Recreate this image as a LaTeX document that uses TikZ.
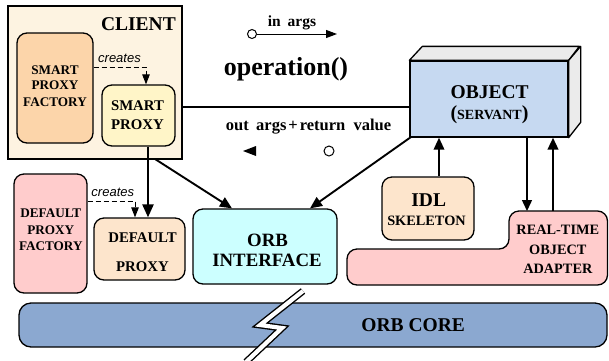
\documentclass[tikz,border=0pt]{standalone}
\usepackage{fontspec}
\setmainfont{Liberation Serif}
\newfontfamily\labelsans{Liberation Sans}
\usetikzlibrary{arrows.meta}

\definecolor{clientbg}{HTML}{FDF3E1}
\definecolor{spfbg}{HTML}{FCD5AA}
\definecolor{spbg}{HTML}{FFF5C8}
\definecolor{objfront}{HTML}{C6D9F1}
\definecolor{objside}{HTML}{EBEBEB}
\definecolor{pinkbg}{HTML}{FFCCCC}
\definecolor{peachbg}{HTML}{FDE5CC}
\definecolor{orbibg}{HTML}{CCFFFF}
\definecolor{corebg}{HTML}{8BA8D0}

\tikzset{
  box/.style={draw=black, line width=1.3pt, rounded corners=10pt, inner sep=0pt},
  txt/.style={font=\bfseries\fontsize{#1}{#1}\selectfont, anchor=base, inner sep=0pt},
  txt/.default=14,
  creat/.style={font=\labelsans\itshape\fontsize{13}{13}\selectfont, anchor=base, inner sep=0pt},
  thick arrow/.style={line width=2.4pt, -{Triangle[length=13pt,width=11pt]}},
  mid arrow/.style={line width=1.9pt, -{Triangle[length=12pt,width=10.5pt]}},
  thin arrow/.style={line width=1.4pt, -{Triangle[length=11pt,width=10pt]}},
  creates arrow/.style={line width=1pt, dashed, dash pattern=on 5pt off 3pt, -{Triangle[length=10pt,width=7.5pt]}}
}

\begin{document}
\begin{tikzpicture}[x=1pt,y=-1pt]
\useasboundingbox (0,0) rectangle (609,360);

% ---------- client side ----------
\node[draw=black, line width=1.6pt, fill=clientbg, inner sep=0pt,
      minimum width=174pt, minimum height=153pt] (client) at (95,82.5) {};
\node[txt=19.5, anchor=base east] (clientlbl) at (176,30.5) {CLIENT};

\node[box, fill=spfbg, minimum width=76pt, minimum height=110pt] (spf) at (55,88) {};
\node[txt=13.2] (spf1) at (55,74) {SMART};
\node[txt=13.2] (spf2) at (55,89.5) {PROXY};
\node[txt=13.2] (spf3) at (55,106) {FACTORY};

\node[box, fill=spbg, minimum width=73pt, minimum height=61pt] (sp) at (138.5,115.5) {};
\node[txt=14.8] (sp1) at (137.5,110.5) {SMART};
\node[txt=14.8] (sp2) at (137.5,129) {PROXY};

\coordinate (spx) at (146,0);
\draw[creates arrow] (spf.east |- 0,67) -- (spx |- 0,67) -- (spx |- sp.north);
\node[creat] (crt1) at (119.5,62.5) {creates};

% ---------- default proxy ----------
\node[box, fill=pinkbg, minimum width=73pt, minimum height=119pt] (dpf) at (50.5,233.5) {};
\node[txt=13.2] (dpf1) at (50.8,217.7) {DEFAULT};
\node[txt=13.2] (dpf2) at (50.8,234) {PROXY};
\node[txt=13.2] (dpf3) at (50.8,250) {FACTORY};

\node[box, fill=peachbg, minimum width=91pt, minimum height=62pt] (dp) at (139.5,249) {};
\node[txt=14.8] (dp1) at (142.5,242.3) {DEFAULT};
\node[txt=14.8] (dp2) at (142.5,271.7) {PROXY};

\coordinate (dpx) at (135,0);
\draw[creates arrow] (dpf.east |- 0,201) -- (dpx |- 0,201) -- (dpx |- dp.north);
\node[creat] (crt2) at (112.8,196) {creates};

% ---------- ORB interface ----------
\node[box, fill=orbibg, minimum width=144pt, minimum height=75pt] (orbi) at (265,246.5) {};
\node[txt=18.8] (orbi1) at (267.5,246) {ORB};
\node[txt=18.8] (orbi2) at (267,266) {INTERFACE};

% ---------- servant object (3-D box) ----------
\node[draw=black, line width=1.3pt, fill=objfront, inner sep=0pt,
      minimum width=158pt, minimum height=76pt] (obj) at (489,99) {};
\draw[line width=1.3pt, fill=objside, line join=round]
  (obj.north west) -- ++(13,-14) -- ++(157,0) -- (obj.north east) -- cycle;
\draw[line width=1.3pt, fill=objside, line join=round]
  (obj.north east) -- ++(12,-14) -- ++(0,76) -- (obj.south east) -- cycle;
\node[txt=19.5] (obj1) at (489.7,98.3) {OBJECT};
\node[txt=20] (obj2) at (489.5,119) {({\fontsize{14}{14}\selectfont SERVANT})};

% ---------- skeleton and adapter ----------
\node[box, fill=peachbg, minimum width=92pt, minimum height=63pt] (idl) at (428,208.5) {};
\node[txt=19.5] (idl1) at (428.7,206.7) {IDL};
\node[txt=14.3] (idl2) at (426.5,225.7) {SKELETON};

\draw[line width=1.3pt, fill=pinkbg, rounded corners=10pt]
  (347,249) -- (509,249) -- (509,211) -- (607.5,211) -- (607.5,285) -- (347,285) -- cycle;
\coordinate (rtoa) at (557,211);
\node[txt=14.3] (rt1) at (557.8,234) {REAL-TIME};
\node[txt=14.3] (rt2) at (557.8,254) {OBJECT};
\node[txt=14.3] (rt3) at (557.8,273.3) {ADAPTER};

% ---------- ORB core ----------
\node[box, fill=corebg, rounded corners=12pt, minimum width=588pt, minimum height=44pt] (core) at (313,325) {};
\node[txt=19.5] (core1) at (413.2,331.7) {ORB CORE};

% lightning break through the core
\draw[line width=7pt, black, line join=miter] (303,291) -- (260,325) -- (282,328) -- (246,362);
\draw[line width=4.2pt, white, line join=miter] (303,291) -- (260,325) -- (282,328) -- (246,362);

% ---------- operation invocation ----------
\node[font=\bfseries\fontsize{26}{26}\selectfont, anchor=base, inner sep=0pt] (op) at (286,75) {operation()};

\node[draw=black, line width=1pt, circle, minimum size=9pt, inner sep=0pt, fill=white] (incirc) at (252,34) {};
\coordinate (inend) at (337,34);
\draw[line width=1pt, -{Triangle[length=11pt,width=8pt]}] (incirc) -- (inend);
\node[txt=15.5] (inlbl) at (292,26) {in\hspace{0.45em}args};

\node[txt=16.5] (outlbl) at (308.5,130.3) {out\hspace{0.45em}args\hspace{0.12em}+\hspace{0.12em}return\hspace{0.5em}value};
\node[draw=black, line width=1pt, circle, minimum size=10pt, inner sep=0pt] (outcirc) at (329,151) {};
\coordinate (outtip) at (243,151);
\fill (outtip) -- ++(13,-5) -- ++(0,10) -- cycle;

% ---------- connectors ----------
\coordinate (link) at (182,107);
\draw[line width=1.2pt] (link) -- (link -| obj.west);

\coordinate (spdown) at (148,0);
\draw[thick arrow] (sp.south -| spdown) -- (dp.north -| spdown);

\coordinate (cdiag) at (155,159);
\coordinate (odiag) at (232,0);
\draw[mid arrow] (cdiag) -- (orbi.north -| odiag);

\coordinate (objdiag) at (411,137);
\coordinate (orbiright) at (310,0);
\draw[mid arrow] (objdiag) -- (orbi.north -| orbiright);

\coordinate (idlx) at (439,0);
\draw[mid arrow] (idl.north -| idlx) -- (obj.south -| idlx);

\coordinate (downx) at (527,0);
\draw[thin arrow] (obj.south -| downx) -- (rtoa -| downx);
\coordinate (upx) at (553,0);
\draw[mid arrow, line width=2.4pt] (rtoa -| upx) -- (obj.south -| upx);
\end{tikzpicture}
\end{document}
